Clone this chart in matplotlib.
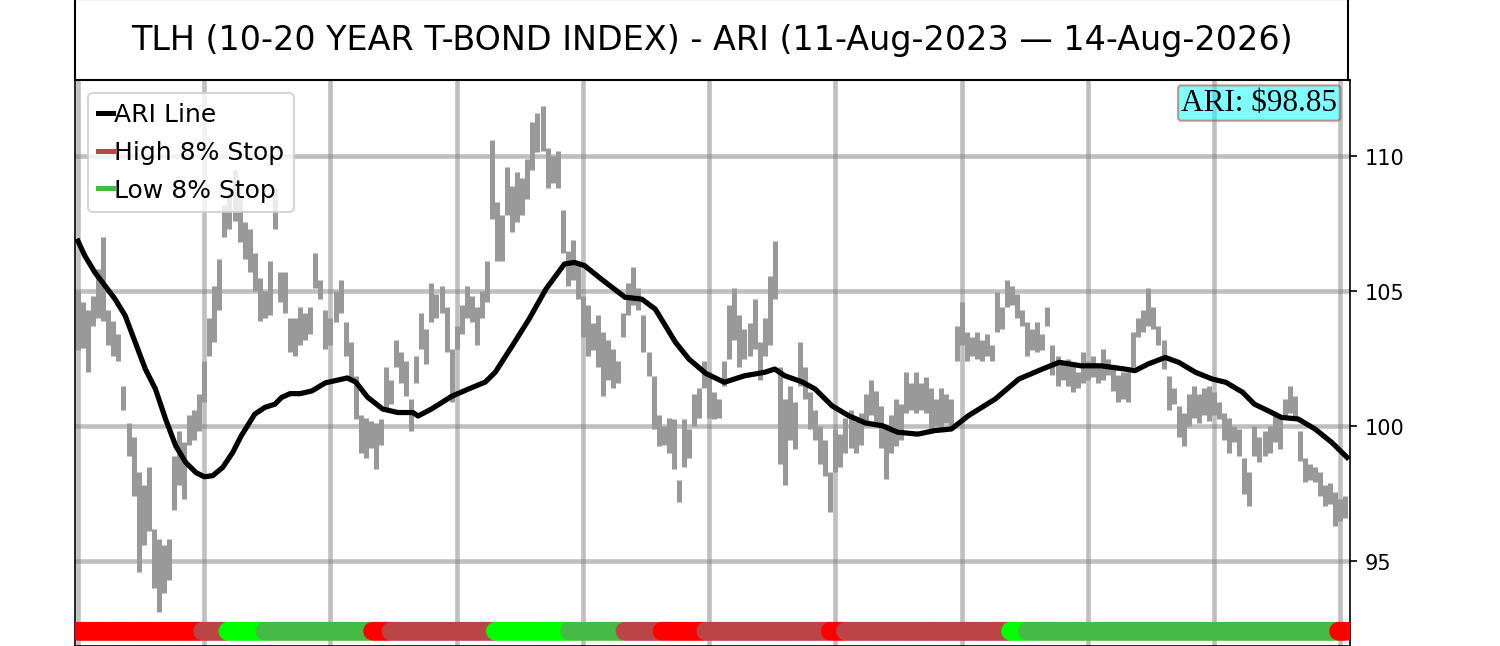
import matplotlib
matplotlib.use("Agg")
import matplotlib.pyplot as plt
from matplotlib.lines import Line2D
import numpy as np

# ---------------- data ----------------
title = "TLH (10-20 YEAR T-BOND INDEX) - ARI (11-Aug-2023 \u2014 14-Aug-2026)"
n_days = 755
bar_step = 3  # one bar every 3 trading days

bar_high = [
    105.0, 104.6, 104.3, 104.8, 105.8, 107.0, 104.3, 103.9, 103.4, 101.5,
    100.1, 99.6, 98.3, 97.8, 98.5, 96.2, 95.8, 95.6, 95.8, 98.9,
    99.8, 99.4, 100.4, 100.6, 101.2, 102.4, 104.0, 105.2, 106.2, 108.2,
    108.6, 109.5, 108.5, 107.55, 107.3, 106.4, 105.5, 105.0, 106.1, 108.8,
    105.7, 105.7, 104.0, 104.0, 104.4, 104.2, 104.4, 106.4, 105.4, 104.3,
    104.0, 105.0, 105.4, 103.85, 103.1, 101.85, 100.4, 100.3, 100.2, 100.1,
    100.26, 102.2, 101.7, 103.2, 102.75, 102.4, 101.0, 102.6, 104.2, 103.6,
    105.3, 104.9, 105.2, 104.4, 102.85, 103.7, 104.5, 105.2, 104.8, 104.4,
    105.0, 106.1, 110.6, 108.3, 107.8, 109.6, 108.9, 109.4, 109.2, 109.9,
    111.25, 111.6, 111.85, 110.3, 110.0, 110.2, 108.0, 106.5, 106.9, 106.0,
    104.8, 104.5, 103.8, 104.1, 103.5, 103.2, 102.85, 102.4, 104.2, 105.3,
    105.9, 105.1, 104.1, 102.75, 101.85, 100.4, 100.0, 100.3, 100.26, 98.0,
    100.26, 99.9, 101.2, 101.4, 102.4, 102.0, 101.25, 101.0, 102.4, 104.5,
    105.1, 104.1, 103.6, 103.8, 104.7, 103.1, 104.0, 105.55, 106.85, 102.2,
    101.0, 101.5, 100.9, 103.1, 102.2, 101.25, 100.6, 100.0, 99.5, 98.3,
    99.9, 99.7, 100.3, 100.6, 100.2, 100.5, 101.2, 101.7, 101.3, 100.75,
    100.0, 100.4, 101.0, 100.8, 102.0, 101.6, 102.0, 101.6, 101.8, 101.4,
    101.0, 101.4, 101.2, 101.0, 103.7, 104.6, 103.5, 103.3, 103.5, 103.2,
    103.4, 103.0, 104.96, 104.4, 105.4, 105.2, 104.9, 104.3, 103.85, 103.6,
    103.85, 103.4, 104.4, 103.0, 102.6, 102.4, 102.5, 102.3, 102.0, 102.75,
    102.4, 102.6, 102.3, 102.85, 102.5, 102.2, 101.9, 102.0, 102.0, 103.5,
    104.0, 104.3, 105.1, 104.4, 103.7, 103.2, 101.85, 101.4, 100.75, 100.5,
    101.2, 101.5, 101.2, 101.4, 101.5, 101.25, 100.9, 100.5, 100.3, 100.0,
    99.9, 98.8, 98.3, 100.0, 99.6, 99.8, 100.0, 100.5, 100.3, 101.0,
    101.5, 101.1, 99.8, 98.8, 98.6, 98.5, 98.3, 97.8, 97.9, 97.55,
    97.3, 97.4,
]
bar_low = [
    102.8, 102.9, 102.0, 103.7, 104.0, 103.9, 103.0, 102.6, 102.4, 100.6,
    98.9, 97.4, 94.6, 95.6, 96.1, 94.0, 93.1, 93.8, 94.3, 96.9,
    97.8, 97.3, 99.3, 99.5, 99.8, 100.9, 102.6, 103.1, 104.3, 107.0,
    107.3, 107.6, 106.8, 106.2, 105.7, 105.0, 103.9, 104.0, 104.1, 107.3,
    104.6, 104.2, 102.75, 102.6, 103.0, 103.2, 103.4, 105.1, 104.7, 102.85,
    103.0, 103.85, 104.2, 102.6, 101.7, 100.26, 99.0, 98.8, 99.2, 98.4,
    99.3, 100.6, 100.8, 102.2, 101.6, 101.1, 99.8, 101.6, 102.85, 102.3,
    103.85, 104.0, 104.2, 102.75, 100.9, 102.85, 103.4, 104.0, 103.85, 103.0,
    104.0, 104.6, 107.65, 106.1, 106.1, 107.8, 107.2, 107.55, 107.8, 108.4,
    109.5, 110.15, 110.2, 108.8, 109.0, 108.8, 106.4, 105.2, 105.4, 104.7,
    103.3, 102.6, 102.8, 102.2, 101.1, 101.7, 101.4, 101.6, 103.3, 104.1,
    104.5, 104.3, 102.75, 101.85, 99.9, 99.26, 99.3, 99.0, 98.4, 97.2,
    98.5, 98.8, 100.0, 100.3, 101.4, 100.3, 100.26, 100.3, 101.5, 102.5,
    103.2, 102.2, 102.5, 102.6, 102.85, 101.7, 102.6, 103.0, 104.7, 98.6,
    97.8, 99.5, 99.15, 101.5, 101.0, 99.9, 99.5, 98.6, 98.15, 96.8,
    98.3, 98.5, 99.0, 99.2, 99.0, 99.3, 100.0, 100.4, 100.0, 99.2,
    98.04, 99.0, 99.26, 99.5, 100.5, 100.6, 100.5, 100.6, 100.5, 99.9,
    100.0, 99.9, 100.1, 99.9, 102.4, 103.0, 102.4, 102.6, 102.5, 102.4,
    102.6, 102.4, 103.5, 103.6, 104.4, 104.5, 104.0, 103.7, 102.6, 102.8,
    102.75, 102.8, 103.7, 101.9, 101.5, 101.7, 101.5, 101.25, 101.4, 101.6,
    101.7, 101.8, 101.6, 101.7, 101.9, 101.3, 100.9, 101.0, 100.9, 102.2,
    103.3, 103.5, 103.7, 103.6, 103.0, 102.1, 100.6, 100.8, 99.6, 99.26,
    100.0, 100.3, 100.1, 100.4, 100.2, 100.4, 100.26, 99.5, 99.0, 99.4,
    98.9, 97.5, 97.04, 98.9, 98.67, 98.9, 99.0, 99.4, 99.15, 100.26,
    100.5, 100.26, 98.7, 97.93, 98.0, 97.93, 97.4, 97.04, 97.1, 96.3,
    96.5, 96.6,
]

ari_idx = [0, 4, 10, 16, 22, 28, 34, 40, 46, 52, 58, 64, 70, 75, 80, 86, 92, 97,
           105, 111, 117, 121, 126, 132, 139, 147, 160, 165, 172, 181, 190, 199,
           202, 210, 222, 232, 242, 248, 258, 268, 278, 289, 295, 301, 311, 325,
           335, 343, 355, 363, 373, 384, 396, 408, 414, 420, 430, 438, 448, 458,
           468, 478, 487, 499, 509, 519, 529, 545, 559, 573, 583, 596, 608, 622,
           628, 636, 646, 654, 664, 674, 682, 692, 699, 707, 715, 725, 735, 745,
           754]
ari_val = [106.85, 106.31, 105.69, 105.2, 104.7, 104.09, 103.1, 102.11, 101.37,
           100.26, 99.27, 98.65, 98.28, 98.12, 98.16, 98.47, 99.03, 99.64,
           100.44, 100.69, 100.81, 101.06, 101.2, 101.2, 101.3, 101.6, 101.78,
           101.63, 101.07, 100.63, 100.5, 100.5, 100.37, 100.63, 101.1, 101.37,
           101.63, 102.0, 102.97, 103.96, 105.07, 106.0, 106.06, 105.94, 105.44,
           104.77, 104.7, 104.33, 103.1, 102.48, 101.95, 101.62, 101.86, 101.99,
           102.11, 101.86, 101.64, 101.37, 100.75, 100.38, 100.11, 100.01, 99.77,
           99.7, 99.83, 99.89, 100.38, 101.0, 101.74, 102.11, 102.36, 102.23,
           102.23, 102.11, 102.05, 102.3, 102.54, 102.36, 101.99, 101.74, 101.62,
           101.25, 100.81, 100.57, 100.32, 100.26, 99.89, 99.39, 98.84]
ari_label = "ARI: \\$98.85"

# stop-state segments: first trading day of each segment and its state
state_start = [0, 74, 89, 111, 175, 186, 248, 292, 325, 347, 373, 447, 456, 554, 564, 749]
state_name = ["high_hit", "high", "low_hit", "low", "high_hit", "high", "low_hit", "low",
              "high", "high_hit", "high", "high_hit", "high", "low_hit", "low", "high_hit"]
state_colors = {"high": "#bb4444", "high_hit": "#ff0000", "low": "#44bb44", "low_hit": "#00ff00"}
strip_level = 92.4

# ---------------- figure ----------------
fig = plt.figure(figsize=(10, 4.313), dpi=150)
ax = fig.add_axes([0.05, 0.0, 0.85, 0.8748])
ax_t = fig.add_axes([0.05, 0.8748, 0.8487, 0.1252])
ax_t.set_xticks([])
ax_t.set_yticks([])
for s in ax_t.spines.values():
    s.set_linewidth(1.0)
ax_t.text(0.5, 0.5, title, ha="center", va="center", fontsize=16)

ax.set_axisbelow(True)
ax.grid(True, color="gray", alpha=0.5, linewidth=2.2)

bar_x = np.arange(len(bar_high)) * bar_step
ax.vlines(bar_x, bar_low, bar_high, color="#999999", linewidth=2.4, zorder=2)

ax.plot(ari_idx, ari_val, color="black", linewidth=2.5, zorder=4)

days = np.arange(n_days)
seg = np.searchsorted(state_start, days, side="right") - 1
cols = [state_colors[state_name[s]] for s in seg]
ax.scatter(days, np.full(n_days, strip_level), c=cols, s=80, marker="o",
           linewidths=0, zorder=5)

ax.set_xlim(-1.8, 755.8)
ax.set_ylim(91.852, 112.815)
ax.set_xticks(np.arange(0, 756, 75))
ax.tick_params(axis="x", labelbottom=False, length=0)
ax.yaxis.tick_right()
ax.set_yticks([95, 100, 105, 110])
ax.tick_params(axis="y", labelsize=10)

handles = [Line2D([0], [0], color="black", lw=2.4),
           Line2D([0], [0], color="#bb4444", lw=2.4),
           Line2D([0], [0], color="#44bb44", lw=2.4)]
ax.legend(handles, ["ARI Line", "High 8% Stop", "Low 8% Stop"], loc="upper left",
          fontsize=12, handlelength=0.6, handletextpad=0.05, borderpad=0.4,
          labelspacing=0.55)

ax.text(0.99, 0.985, ari_label, transform=ax.transAxes, ha="right", va="top",
        fontsize=15, family="Liberation Serif", zorder=6,
        bbox=dict(boxstyle="round,pad=0.1", facecolor=(0, 1, 1, 0.5),
                  edgecolor=(0.7, 0.3, 0.3, 0.6)))

fig.savefig("out.png", dpi=150)
